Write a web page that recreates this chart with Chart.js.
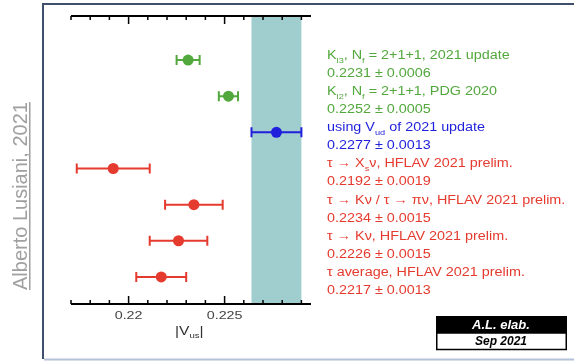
<!DOCTYPE html>
<html>
<head>
<meta charset="utf-8">
<script src="https://cdn.jsdelivr.net/npm/chart.js@4.4.1/dist/chart.umd.min.js"></script>
<style>
  html, body { margin: 0; padding: 0; background: #ffffff; }
  #wrap { width: 574px; height: 361px; position: relative; }
</style>
</head>
<body>
<div id="wrap"><canvas id="chart" width="574" height="361"></canvas></div>
<script>
// measurements of |Vus|
const labels = [
    'K_{l3}, N_{f} = 2+1+1, 2021 update',
    'K_{l2}, N_{f} = 2+1+1, PDG 2020',
    'using V_{ud} of 2021 update',
    'τ → X_{s}ν, HFLAV 2021 prelim.',
    'τ → Kν / τ → πν, HFLAV 2021 prelim.',
    'τ → Kν, HFLAV 2021 prelim.',
    'τ average, HFLAV 2021 prelim.'
];
const values = [0.2231, 0.2252, 0.2277, 0.2192, 0.2234, 0.2226, 0.2217];
const errors = [0.0006, 0.0005, 0.0013, 0.0019, 0.0015, 0.0015, 0.0013];
const colors = ['#52a83c', '#52a83c', '#1f1fdc', '#e53a2e', '#e53a2e', '#e53a2e', '#e53a2e'];
const bandIndex = 2;

// axis
const xMin = 0.217;
const xMax = 0.2295;
const majorTicks = [0.22, 0.225];
const minorStep = 0.001;

function drawRich(ctx, str, x, y, size, sx, color, weight) {
    const parts = str.split(/(_\{[^}]*\})/);
    ctx.save();
    ctx.translate(x, y);
    ctx.scale(sx, 1);
    ctx.fillStyle = color;
    ctx.textBaseline = 'middle';
    ctx.textAlign = 'left';
    let cx = 0;
    parts.forEach(p => {
        if (!p) return;
        if (p.startsWith('_{')) {
            const t = p.slice(2, -1);
            ctx.font = (weight || '') + ' ' + Math.round(size * 0.65) + 'px "Liberation Sans", Arial, sans-serif';
            ctx.fillText(t, cx, size * 0.38);
            cx += ctx.measureText(t).width;
        } else {
            ctx.font = (weight || '') + ' ' + size + 'px "Liberation Sans", Arial, sans-serif';
            ctx.fillText(p, cx, 0);
            cx += ctx.measureText(p).width;
        }
    });
    ctx.restore();
}

const errorBars = {
    id: 'errorBars',
    beforeDatasetsDraw(chart) {
        const ctx = chart.ctx;
        const xs = chart.scales.x;
        const ys = chart.scales.y;
        const area = chart.chartArea;
        // band of the Vud-based value
        const b0 = xs.getPixelForValue(values[bandIndex] - errors[bandIndex]);
        const b1 = xs.getPixelForValue(values[bandIndex] + errors[bandIndex]);
        ctx.save();
        ctx.fillStyle = '#a0cdcd';
        ctx.fillRect(b0, area.top, b1 - b0, area.bottom - area.top);
        // error bars
        ctx.lineWidth = 2;
        values.forEach((v, i) => {
            const y = ys.getPixelForValue(i);
            const l = xs.getPixelForValue(v - errors[i]);
            const r = xs.getPixelForValue(v + errors[i]);
            ctx.strokeStyle = colors[i];
            ctx.beginPath();
            ctx.moveTo(l, y); ctx.lineTo(r, y);
            ctx.moveTo(l, y - 5); ctx.lineTo(l, y + 5);
            ctx.moveTo(r, y - 5); ctx.lineTo(r, y + 5);
            ctx.stroke();
        });
        ctx.restore();
    },
    afterDraw(chart) {
        const ctx = chart.ctx;
        const xs = chart.scales.x;
        const ys = chart.scales.y;
        const area = chart.chartArea;
        ctx.save();

        // frame
        ctx.lineWidth = 2;
        ctx.strokeStyle = '#3d4f6b';
        ctx.beginPath();
        ctx.moveTo(43, 359); ctx.lineTo(43, 4); ctx.lineTo(574, 4);
        ctx.stroke();
        ctx.strokeStyle = '#b4c2d8';
        ctx.beginPath();
        ctx.moveTo(44, 359.5); ctx.lineTo(574, 359.5);
        ctx.stroke();

        // top and bottom axes with inward ticks
        ctx.strokeStyle = '#000000';
        ctx.lineWidth = 2;
        ctx.beginPath();
        ctx.moveTo(area.left, area.top); ctx.lineTo(area.right, area.top);
        ctx.moveTo(area.left, area.bottom); ctx.lineTo(area.right, area.bottom);
        ctx.stroke();
        ctx.lineWidth = 1.5;
        ctx.beginPath();
        for (let k = 0; xMin + k * minorStep <= xMax + 1e-9; k++) {
            const v = xMin + k * minorStep;
            const px = xs.getPixelForValue(v);
            const major = majorTicks.some(m => Math.abs(m - v) < 1e-7);
            const len = major ? 8 : 4;
            ctx.moveTo(px, area.top); ctx.lineTo(px, area.top + len);
            ctx.moveTo(px, area.bottom); ctx.lineTo(px, area.bottom - len);
        }
        ctx.stroke();

        // tick labels
        majorTicks.forEach(m => {
            const px = xs.getPixelForValue(m);
            ctx.save();
            ctx.translate(px, area.bottom + 12);
            ctx.scale(1.3, 1);
            ctx.font = '11px "Liberation Sans", Arial, sans-serif';
            ctx.fillStyle = '#444444';
            ctx.textAlign = 'center';
            ctx.textBaseline = 'middle';
            ctx.fillText(String(m), 0, 0);
            ctx.restore();
        });

        // axis title |Vus|
        drawRich(ctx, '|V_{us}|', 175, 331, 13, 1.2, '#333333');

        // labels on the right
        values.forEach((v, i) => {
            const y = ys.getPixelForValue(i);
            drawRich(ctx, labels[i], 327, y - 4.5, 12.5, 1.15, colors[i]);
            drawRich(ctx, v.toFixed(4) + ' ± ' + errors[i].toFixed(4), 327, y + 13.5, 12.5, 1.15, colors[i]);
        });

        // author, rotated
        ctx.save();
        ctx.translate(27, 290);
        ctx.rotate(-Math.PI / 2);
        ctx.font = '20px "Liberation Sans", Arial, sans-serif';
        ctx.fillStyle = '#a0a0a0';
        ctx.textAlign = 'left';
        ctx.textBaseline = 'alphabetic';
        const author = 'Alberto Lusiani, 2021';
        const w = ctx.measureText(author).width;
        ctx.fillText(author, 0, 0);
        ctx.fillRect(0, 2, w, 1.5);
        ctx.restore();

        // stamp box
        ctx.fillStyle = '#000000';
        ctx.fillRect(436, 316, 131, 17);
        ctx.strokeStyle = '#000000';
        ctx.lineWidth = 1.5;
        ctx.strokeRect(436.75, 333, 129.5, 16.5);
        ctx.textAlign = 'center';
        ctx.textBaseline = 'middle';
        ctx.font = 'italic bold 13px "Liberation Sans", Arial, sans-serif';
        ctx.fillStyle = '#ffffff';
        ctx.fillText('A.L. elab.', 501, 325);
        ctx.font = 'italic bold 12px "Liberation Sans", Arial, sans-serif';
        ctx.fillStyle = '#000000';
        ctx.fillText('Sep 2021', 501, 342);

        ctx.restore();
    }
};

const points = values.map((v, i) => ({ x: v, y: i }));

new Chart(document.getElementById('chart').getContext('2d'), {
    type: 'scatter',
    data: {
        datasets: [{
            data: points,
            pointRadius: 5.5,
            pointHoverRadius: 5.5,
            pointBorderWidth: 0,
            pointBackgroundColor: colors,
            pointBorderColor: colors
        }]
    },
    options: {
        responsive: false,
        animation: false,
        layout: {
            padding: { left: 71, right: 263, top: 16, bottom: 57 }
        },
        scales: {
            x: { type: 'linear', min: xMin, max: xMax, display: false },
            y: { type: 'linear', min: -1.22, max: 6.75, reverse: true, display: false }
        },
        plugins: {
            legend: { display: false },
            tooltip: { enabled: false }
        }
    },
    plugins: [errorBars]
});
</script>
</body>
</html>
